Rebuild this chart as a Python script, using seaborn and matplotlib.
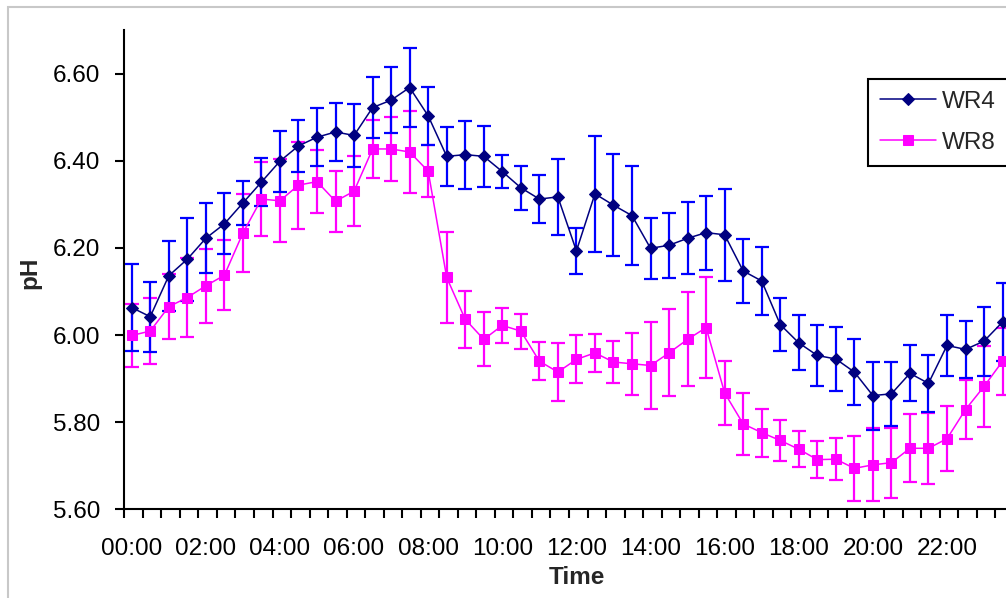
import numpy as np
import matplotlib
matplotlib.use('Agg')
import matplotlib.pyplot as plt
import seaborn as sns
from matplotlib.patches import Rectangle
from matplotlib.ticker import FormatStrFormatter

# ---- data (half-hourly pH, mean +/- error) ----
times = [f"{h:02d}:{m:02d}" for h in range(24) for m in (0, 30)]
tick_labels = ["00:00", "02:00", "04:00", "06:00", "08:00", "10:00",
               "12:00", "14:00", "16:00", "18:00", "20:00", "22:00"]

wr4 = [6.063, 6.042, 6.136, 6.174, 6.222, 6.255, 6.303, 6.351, 6.399, 6.434,
       6.454, 6.466, 6.458, 6.522, 6.539, 6.568, 6.503, 6.410, 6.414, 6.410,
       6.375, 6.338, 6.312, 6.317, 6.193, 6.324, 6.298, 6.274, 6.199, 6.206,
       6.222, 6.235, 6.230, 6.147, 6.124, 6.024, 5.982, 5.953, 5.945, 5.915,
       5.861, 5.865, 5.912, 5.889, 5.976, 5.967, 5.986, 6.030]
wr4_err = [0.100, 0.080, 0.080, 0.095, 0.080, 0.070, 0.050, 0.055, 0.070, 0.060,
           0.066, 0.066, 0.073, 0.070, 0.076, 0.090, 0.066, 0.068, 0.078, 0.070,
           0.037, 0.050, 0.055, 0.088, 0.052, 0.133, 0.117, 0.113, 0.070, 0.075,
           0.083, 0.085, 0.105, 0.073, 0.078, 0.060, 0.063, 0.071, 0.073, 0.075,
           0.078, 0.073, 0.064, 0.065, 0.069, 0.065, 0.079, 0.090]

wr8 = [5.999, 6.009, 6.065, 6.086, 6.113, 6.137, 6.234, 6.312, 6.308, 6.344,
       6.352, 6.307, 6.330, 6.427, 6.427, 6.420, 6.376, 6.132, 6.036, 5.990,
       6.022, 6.009, 5.940, 5.915, 5.944, 5.959, 5.938, 5.934, 5.930, 5.959,
       5.990, 6.017, 5.867, 5.796, 5.776, 5.758, 5.738, 5.714, 5.715, 5.694,
       5.702, 5.707, 5.740, 5.740, 5.762, 5.829, 5.882, 5.940]
wr8_err = [0.073, 0.075, 0.074, 0.090, 0.085, 0.080, 0.090, 0.085, 0.095, 0.100,
           0.072, 0.070, 0.080, 0.067, 0.073, 0.094, 0.060, 0.105, 0.065, 0.062,
           0.040, 0.040, 0.043, 0.067, 0.055, 0.043, 0.049, 0.071, 0.100, 0.100,
           0.108, 0.115, 0.074, 0.072, 0.055, 0.048, 0.042, 0.042, 0.048, 0.075,
           0.084, 0.080, 0.078, 0.082, 0.074, 0.068, 0.092, 0.077]

# ---- style ----
sns.set_style('ticks')
plt.rcParams['font.family'] = ['Liberation Sans', 'DejaVu Sans']
FS = 17.5

W, H = 1006, 598
fig = plt.figure(figsize=(W / 100, H / 100), dpi=100)
# axes run past the right edge, like the cropped original
ax = fig.add_axes([124.3 / W, 88.7 / H, 889.4 / W, 479.3 / H])

idx = np.arange(len(times))

# error bars first, markers on top
ax.errorbar(idx, wr8, yerr=wr8_err, fmt='none', ecolor='#ff00ff',
            elinewidth=1.6, capsize=5.2, capthick=1.6, zorder=2, clip_on=False)
ax.errorbar(idx, wr4, yerr=wr4_err, fmt='none', ecolor='#0000ff',
            elinewidth=1.6, capsize=5.2, capthick=1.6, zorder=3, clip_on=False)

sns.lineplot(x=idx, y=wr8, ax=ax, color='#ff00ff', marker='s', markersize=7.5,
             markeredgecolor='#ff00ff', linewidth=1.1, label='WR8', zorder=4)
sns.lineplot(x=idx, y=wr4, ax=ax, color='#000080', marker='D', markersize=6,
             markeredgecolor='#000080', linewidth=1.1, label='WR4', zorder=5)

# ---- axes ----
ax.set_xlim(-0.4, 47.6)
ax.set_ylim(5.6, 6.7)
ax.set_yticks([5.6, 5.8, 6.0, 6.2, 6.4, 6.6])
ax.yaxis.set_major_formatter(FormatStrFormatter('%.2f'))

ax.set_xticks(idx[::4])
ax.set_xticklabels(tick_labels)
ax.set_xticks(idx - 0.4, minor=True)
ax.tick_params(axis='x', which='major', length=0, pad=21, labelsize=FS, colors='black')
ax.tick_params(axis='x', which='minor', length=6.5, width=1.5, direction='out', color='black')
ax.tick_params(axis='y', length=6.5, width=1.5, direction='out', pad=11, labelsize=FS,
               colors='black')

for s in ['top', 'right']:
    ax.spines[s].set_visible(False)
for s in ['left', 'bottom']:
    ax.spines[s].set_color('black')
    ax.spines[s].set_linewidth(1.5)

ax.set_xlabel('')
ax.set_ylabel('')
fig.text(29.5 / W, 1 - 273 / H, 'pH', rotation=90, ha='center', va='center',
         fontsize=FS, fontweight='bold')
fig.text(576.7 / W, 1 - 577 / H, 'Time', ha='center', va='center',
         fontsize=FS, fontweight='bold')

# legend in WR4, WR8 order
handles, labels = ax.get_legend_handles_labels()
order = [labels.index('WR4'), labels.index('WR8')]
leg = ax.legend([handles[i] for i in order], [labels[i] for i in order],
                loc='upper left', bbox_to_anchor=(867.7 / W, 1 - 78.7 / H),
                bbox_transform=fig.transFigure, fontsize=FS, frameon=True,
                fancybox=False, framealpha=1, edgecolor='black',
                handlelength=2.3, handletextpad=0.25, labelspacing=0.78,
                borderpad=0.5, borderaxespad=0)
leg.get_frame().set_linewidth(1.5)

# outer chart border (gray, cropped on the right/bottom)
fig.patches.append(Rectangle((8 / W, -0.2), 1.2, 1 - 7 / H + 0.2,
                             transform=fig.transFigure, fill=False,
                             edgecolor='#c8c8c8', linewidth=1.5))

plt.savefig('out.png', dpi=100)
